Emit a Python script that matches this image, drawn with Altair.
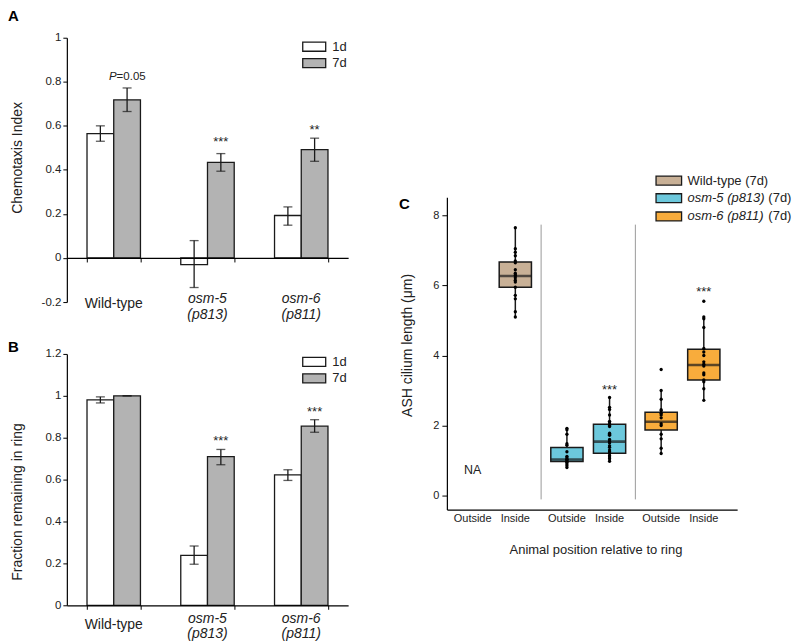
import altair as alt
import pandas as pd

FONT = "Liberation Sans"
INK = "#1a1a1a"
TXT = "#222222"

# ---------------- shared categories ----------------
genotypes = ["Wild-type", "osm-5 (p813)", "osm-6 (p811)"]
geno_line1 = ["Wild-type", "osm-5", "osm-6"]
geno_line2 = ["", "(p813)", "(p811)"]
ages = ["1d", "7d"]
age_colors = ["#ffffff", "#b3b3b3"]

# ---------------- Panel A: chemotaxis index ----------------
chemo_1d = [0.565, -0.030, 0.193]
chemo_1d_lo = [0.530, -0.134, 0.149]
chemo_1d_hi = [0.600, 0.079, 0.232]
chemo_7d = [0.718, 0.434, 0.492]
chemo_7d_lo = [0.665, 0.394, 0.439]
chemo_7d_hi = [0.772, 0.474, 0.544]
chemo_sig = ["", "***", "**"]
chemo_sig_y = [0.0, 0.541, 0.595]
chemo_p_text = "=0.05"
chemo_p_y = 0.822
chemo_ticks = [-0.2, 0, 0.2, 0.4, 0.6, 0.8, 1.0]

# ---------------- Panel B: fraction remaining in ring ----------------
ring_1d = [0.981, 0.238, 0.623]
ring_1d_lo = [0.966, 0.196, 0.596]
ring_1d_hi = [0.995, 0.283, 0.647]
ring_7d = [1.000, 0.710, 0.855]
ring_7d_lo = [1.000, 0.671, 0.826]
ring_7d_hi = [1.000, 0.744, 0.886]
ring_sig = ["", "***", "***"]
ring_sig_y = [0.0, 0.803, 0.939]
ring_ticks = [0, 0.2, 0.4, 0.6, 0.8, 1.0, 1.2]

# ---------------- Panel C: ASH cilium length ----------------
positions = ["Outside", "Inside"]
c_labels = ["Wild-type (7d)", "osm-5 (p813) (7d)", "osm-6 (p811) (7d)"]
c_colors = ["#c8b096", "#6cc8dc", "#f8ac3c"]
box_geno = ["Wild-type", "osm-5 (p813)", "osm-5 (p813)", "osm-6 (p811)", "osm-6 (p811)"]
box_pos = ["Inside", "Outside", "Inside", "Outside", "Inside"]
box_lo = [5.10, 0.80, 0.98, 1.20, 2.72]
box_q1 = [5.95, 0.97, 1.21, 1.87, 3.30]
box_med = [6.27, 1.03, 1.54, 2.11, 3.73]
box_q3 = [6.67, 1.37, 2.04, 2.38, 4.18]
box_hi = [7.65, 1.92, 2.80, 3.00, 5.10]
pts_wt_inside = [7.65, 7.05, 6.95, 6.85, 6.70, 6.65, 6.45, 6.35, 6.30, 6.28,
                 6.22, 6.15, 6.10, 5.95, 5.72, 5.62, 5.25, 5.10]
pts_osm5_outside = [1.92, 1.88, 1.75, 1.48, 1.44, 1.25, 1.12, 1.08, 1.04, 1.02,
                    0.99, 0.95, 0.90, 0.85, 0.80]
pts_osm5_inside = [2.80, 2.52, 2.46, 2.30, 2.12, 2.07, 2.00, 1.97, 1.78, 1.75,
                   1.72, 1.60, 1.55, 1.50, 1.42, 1.38, 1.30, 1.25, 1.20, 1.14,
                   1.10, 1.05, 0.98]
pts_osm6_outside = [3.60, 3.00, 2.75, 2.45, 2.42, 2.35, 2.30, 2.22, 2.05, 2.00,
                    1.75, 1.62, 1.35, 1.20]
pts_osm6_inside = [5.55, 5.10, 5.05, 4.80, 4.20, 4.10, 4.00, 3.82, 3.75, 3.70,
                   3.50, 3.45, 3.30, 3.25, 3.05, 2.72]
c_sig_geno = ["osm-5 (p813)", "osm-6 (p811)"]
c_sig_y = [3.11, 5.91]
c_na_y = 0.74
sep_geno = ["osm-5 (p813)", "osm-6 (p811)"]
sep_lo = [-0.11, -0.11]
sep_hi = [7.74, 7.74]
c_ticks = [0, 2, 4, 6, 8]

# ---------------- layout constants (pixels) ----------------
A_W, A_H = 282, 265
B_H = 252
C_W, C_H = 291, 313
LEG_PATH = "M-1.6,-0.63L1.6,-0.63L1.6,0.63L-1.6,0.63Z"


def bar_frame(m1, lo1, hi1, m7, lo7, hi7):
    rows = []
    for i, g in enumerate(genotypes):
        rows.append({"genotype": g, "age": "1d", "mean": m1[i], "lo": lo1[i], "hi": hi1[i]})
        rows.append({"genotype": g, "age": "7d", "mean": m7[i], "lo": lo7[i], "hi": hi7[i]})
    return pd.DataFrame(rows)


def sig_frame(sig, sig_y):
    return pd.DataFrame([{"genotype": g, "age": "7d", "y": sig_y[i], "text": sig[i]}
                         for i, g in enumerate(genotypes) if sig[i]])


lab_df = pd.DataFrame({"genotype": genotypes, "l1": geno_line1, "l2": geno_line2})


def bar_panel(df, sdf, ydom, yticks, height, ytitle, title_y, letter, axis_offset,
              lab_y, legend_y, letter_y, extra=None):
    x_axis = alt.Axis(orient="bottom", offset=axis_offset, title=None, domainColor="#000",
                      domainWidth=1.2, tickBand="extent", tickSize=4, tickColor="#000",
                      labels=False, zindex=1)
    xsc = alt.Scale(paddingInner=0.43, paddingOuter=0.215)
    x = alt.X("genotype:N", sort=genotypes, scale=xsc, axis=x_axis)
    xo = alt.XOffset("age:N", sort=ages, scale=alt.Scale(paddingInner=0, paddingOuter=0))
    y_axis = alt.Axis(values=yticks,
                      labelExpr="(datum.value < 0 ? '-' : '') + format(abs(datum.value), '~g')",
                      tickSize=4, labelPadding=2, labelFontSize=11.5, labelColor=TXT,
                      domainColor="#000", domainWidth=1.2, tickColor="#000",
                      title=ytitle, titleFontSize=14, titleFontWeight="normal",
                      titleColor=TXT, titleX=-49, titleY=title_y, titleAngle=270,
                      titleAlign="center", titleBaseline="middle")
    ysc = alt.Scale(domain=ydom, nice=False, zero=True)

    def Y(f):
        return alt.Y(f, scale=ysc, axis=y_axis)

    base = alt.Chart(df)
    bars = base.mark_bar(stroke=INK, strokeWidth=1.3).encode(
        x=x, xOffset=xo, y=Y("mean:Q"),
        fill=alt.Fill("age:N", sort=ages, scale=alt.Scale(domain=ages, range=age_colors),
                      legend=alt.Legend(title=None, orient="none", legendX=240,
                                        legendY=legend_y, direction="vertical",
                                        symbolType=LEG_PATH, symbolSize=207,
                                        symbolStrokeColor=INK, symbolStrokeWidth=1.3,
                                        labelFont=FONT, labelFontSize=13, labelColor=TXT,
                                        rowPadding=0.5, labelOffset=10)))
    whisk = base.mark_rule(color=INK, strokeWidth=1.3).encode(
        x=x, xOffset=xo, y=Y("lo:Q"), y2="hi:Q")
    cap_lo = base.mark_tick(color=INK, thickness=1.3, size=9).encode(
        x=x, xOffset=xo, y=Y("lo:Q"))
    cap_hi = base.mark_tick(color=INK, thickness=1.3, size=9).encode(
        x=x, xOffset=xo, y=Y("hi:Q"))
    sig = alt.Chart(sdf).mark_text(font=FONT, fontSize=13, dy=3.5, color=TXT).encode(
        x=x, xOffset=xo, y=Y("y:Q"), text="text:N")
    lab = alt.Chart(lab_df)
    wt_lab = lab.transform_filter("datum.l2 == ''").mark_text(
        font=FONT, fontSize=14, color=TXT, baseline="middle").encode(
        x=x, y=alt.value(lab_y[0]), text="l1:N")
    mut_l1 = lab.transform_filter("datum.l2 != ''").mark_text(
        font=FONT, fontSize=14, color=TXT, baseline="middle", fontStyle="italic").encode(
        x=x, y=alt.value(lab_y[1]), text="l1:N")
    mut_l2 = lab.transform_filter("datum.l2 != ''").mark_text(
        font=FONT, fontSize=14, color=TXT, baseline="middle", fontStyle="italic").encode(
        x=x, y=alt.value(lab_y[2]), text="l2:N")
    let = alt.Chart(pd.DataFrame({"t": [letter]})).mark_text(
        font=FONT, fontSize=15, fontWeight="bold", align="left", baseline="top",
        color="#000").encode(x=alt.value(-59), y=alt.value(letter_y), text="t:N")
    layers = [bars, whisk, cap_lo, cap_hi, sig, wt_lab, mut_l1, mut_l2, let]
    if extra is not None:
        layers += extra(x, xo, Y)
    return alt.layer(*layers).properties(width=A_W, height=height)


def p_layers(x, xo, Y):
    pdf = pd.DataFrame({"genotype": ["Wild-type"], "age": ["7d"], "y": [chemo_p_y],
                        "t": [chemo_p_text]})
    pc = alt.Chart(pdf)
    italic_p = pc.mark_text(font=FONT, fontSize=11.5, fontStyle="italic", align="right",
                            baseline="middle", dx=-10.5, color=TXT).encode(
        x=x, xOffset=xo, y=Y("y:Q"), text=alt.value("P"))
    rest = pc.mark_text(font=FONT, fontSize=11.5, align="left", baseline="middle",
                        dx=-10.5, color=TXT).encode(
        x=x, xOffset=xo, y=Y("y:Q"), text="t:N")
    return [italic_p, rest]


panel_a = bar_panel(bar_frame(chemo_1d, chemo_1d_lo, chemo_1d_hi, chemo_7d, chemo_7d_lo, chemo_7d_hi),
                    sig_frame(chemo_sig, chemo_sig_y), [-0.2, 1.0], chemo_ticks, A_H,
                    "Chemotaxis Index", 120, "A", -44.2, (267, 261.5, 277.5), 1, -29,
                    extra=p_layers)
panel_b = bar_panel(bar_frame(ring_1d, ring_1d_lo, ring_1d_hi, ring_7d, ring_7d_lo, ring_7d_hi),
                    sig_frame(ring_sig, ring_sig_y), [0, 1.2], ring_ticks, B_H,
                    "Fraction remaining in ring", 148, "B", 0, (272, 265.3, 280.3), 0, -14)

# ---------------- Panel C ----------------
box_df = pd.DataFrame({"genotype": box_geno, "position": box_pos, "lo": box_lo,
                       "q1": box_q1, "med": box_med, "q3": box_q3, "hi": box_hi})
pt_rows = []
for g, p, vals in [("Wild-type", "Inside", pts_wt_inside),
                   ("osm-5 (p813)", "Outside", pts_osm5_outside),
                   ("osm-5 (p813)", "Inside", pts_osm5_inside),
                   ("osm-6 (p811)", "Outside", pts_osm6_outside),
                   ("osm-6 (p811)", "Inside", pts_osm6_inside)]:
    for v in vals:
        pt_rows.append({"genotype": g, "position": p, "length": v})
pts_df = pd.DataFrame(pt_rows)

cx_axis = alt.Axis(labels=False, ticks=False, domainColor="#000", domainWidth=1.2,
                   title="Animal position relative to ring", titleFontSize=13,
                   titleFontWeight="normal", titleColor=TXT, titleX=149, titleY=40,
                   titleBaseline="middle", titleAlign="center")
cxs = alt.Scale(paddingInner=0, paddingOuter=0.04, align=0)
cx = alt.X("genotype:N", sort=genotypes, scale=cxs, axis=cx_axis)
cxo = alt.XOffset("position:N", sort=positions,
                  scale=alt.Scale(paddingInner=0.244, paddingOuter=0.227))
cy_axis = alt.Axis(values=c_ticks, tickSize=5, labelPadding=3, labelFontSize=11,
                   labelColor=TXT, domainColor="#000", domainWidth=1.2, tickColor="#000",
                   title="ASH cilium length (\u03bcm)", titleFontSize=14,
                   titleFontWeight="normal", titleColor=TXT, titleX=-39, titleY=148,
                   titleAngle=270, titleAlign="center", titleBaseline="middle")
cys = alt.Scale(domain=[-0.4, 8.52], nice=False, zero=False)


def CY(f):
    return alt.Y(f, scale=cys, axis=cy_axis)


cfill = alt.Fill("genotype:N", scale=alt.Scale(domain=genotypes, range=c_colors), legend=None)

sep = alt.Chart(pd.DataFrame({"genotype": sep_geno, "lo": sep_lo, "hi": sep_hi})).mark_rule(
    color="#9a9a9a", strokeWidth=1).encode(
    x=alt.X("genotype:N", sort=genotypes, scale=cxs, axis=cx_axis, bandPosition=0),
    y=CY("lo:Q"), y2="hi:Q")
cb = alt.Chart(box_df)
whisk_c = cb.mark_rule(color=INK, strokeWidth=1.5).encode(x=cx, xOffset=cxo, y=CY("lo:Q"), y2="hi:Q")
boxes = cb.mark_bar(stroke=INK, strokeWidth=1.5).encode(
    x=cx, xOffset=cxo, y=CY("q1:Q"), y2="q3:Q", fill=cfill)
meds = cb.mark_tick(color=INK, thickness=2.6, size=32.3).encode(x=cx, xOffset=cxo, y=CY("med:Q"))
dots = alt.Chart(pts_df).mark_circle(size=11, color="#000", opacity=1).encode(
    x=cx, xOffset=cxo, y=CY("length:Q"))
na = alt.Chart(pd.DataFrame({"genotype": ["Wild-type"], "position": ["Outside"],
                             "y": [c_na_y], "t": ["NA"]})).mark_text(
    font=FONT, fontSize=12.5, color=TXT, baseline="middle").encode(
    x=cx, xOffset=cxo, y=CY("y:Q"), text="t:N")
csig = alt.Chart(pd.DataFrame({"genotype": c_sig_geno, "position": ["Inside", "Inside"],
                               "y": c_sig_y, "t": ["***", "***"]})).mark_text(
    font=FONT, fontSize=13, color=TXT, baseline="middle", dy=3.5).encode(
    x=cx, xOffset=cxo, y=CY("y:Q"), text="t:N")
xlab = alt.Chart(pd.DataFrame([{"genotype": g, "position": p}
                               for g in genotypes for p in positions])).mark_text(
    font=FONT, fontSize=11, color=TXT, baseline="middle").encode(
    x=cx, xOffset=cxo, y=alt.value(C_H + 10), text="position:N")
c_letter = alt.Chart(pd.DataFrame({"t": ["C"]})).mark_text(
    font=FONT, fontSize=15, fontWeight="bold", align="left", baseline="top",
    color="#000").encode(x=alt.value(-48), y=alt.value(0), text="t:N")

# manual legend (labels mix italic and upright text)
leg_layers = []
LEG_X0, LEG_X1, LEG_TX = 209.7, 235.3, 241.3
leg_rows_y = [-16.8, 0.9, 19.2]
ldf = pd.DataFrame({"t": [""]})
for i, g in enumerate(genotypes):
    yc = leg_rows_y[i]
    leg_layers.append(alt.Chart(ldf).mark_rect(stroke=INK, strokeWidth=1.3, fill=c_colors[i]).encode(
        x=alt.value(LEG_X0), x2=alt.value(LEG_X1), y=alt.value(yc - 4.5), y2=alt.value(yc + 4.5)))
    if i == 0:
        leg_layers.append(alt.Chart(ldf).mark_text(font=FONT, fontSize=13, color=TXT, align="left",
                                                   baseline="middle").encode(
            x=alt.value(LEG_TX), y=alt.value(yc), text=alt.value(c_labels[0])))
    else:
        it, rest = c_labels[i].rsplit(" ", 1)
        leg_layers.append(alt.Chart(ldf).mark_text(font=FONT, fontSize=13, color=TXT, align="left",
                                                   baseline="middle", fontStyle="italic").encode(
            x=alt.value(LEG_TX), y=alt.value(yc), text=alt.value(it)))
        leg_layers.append(alt.Chart(ldf).mark_text(font=FONT, fontSize=13, color=TXT, align="left",
                                                   baseline="middle").encode(
            x=alt.value(LEG_TX + 81), y=alt.value(yc), text=alt.value(rest)))

panel_c = alt.layer(sep, whisk_c, boxes, meds, dots, na, csig, xlab, c_letter, *leg_layers).properties(
    width=C_W, height=C_H)

spacer = alt.Chart(pd.DataFrame({"t": [0]})).mark_point(opacity=0, size=1).encode(
    x=alt.value(1), y=alt.value(1)).properties(width=C_W, height=137)

IND = dict(x="independent", y="independent", fill="independent", xOffset="independent")
left = alt.vconcat(panel_a, panel_b, spacing=18).resolve_scale(**IND).resolve_legend(fill="independent")
right = alt.vconcat(spacer, panel_c, spacing=0).resolve_scale(**IND)
chart = alt.hconcat(left, right, spacing=51).resolve_scale(**IND).resolve_legend(
    fill="independent").properties(padding=0).configure(
    font=FONT).configure_view(stroke=None).configure_axis(grid=False, labelFont=FONT, titleFont=FONT)

chart.save("out.html", embed_options={"renderer": "svg", "actions": False})
